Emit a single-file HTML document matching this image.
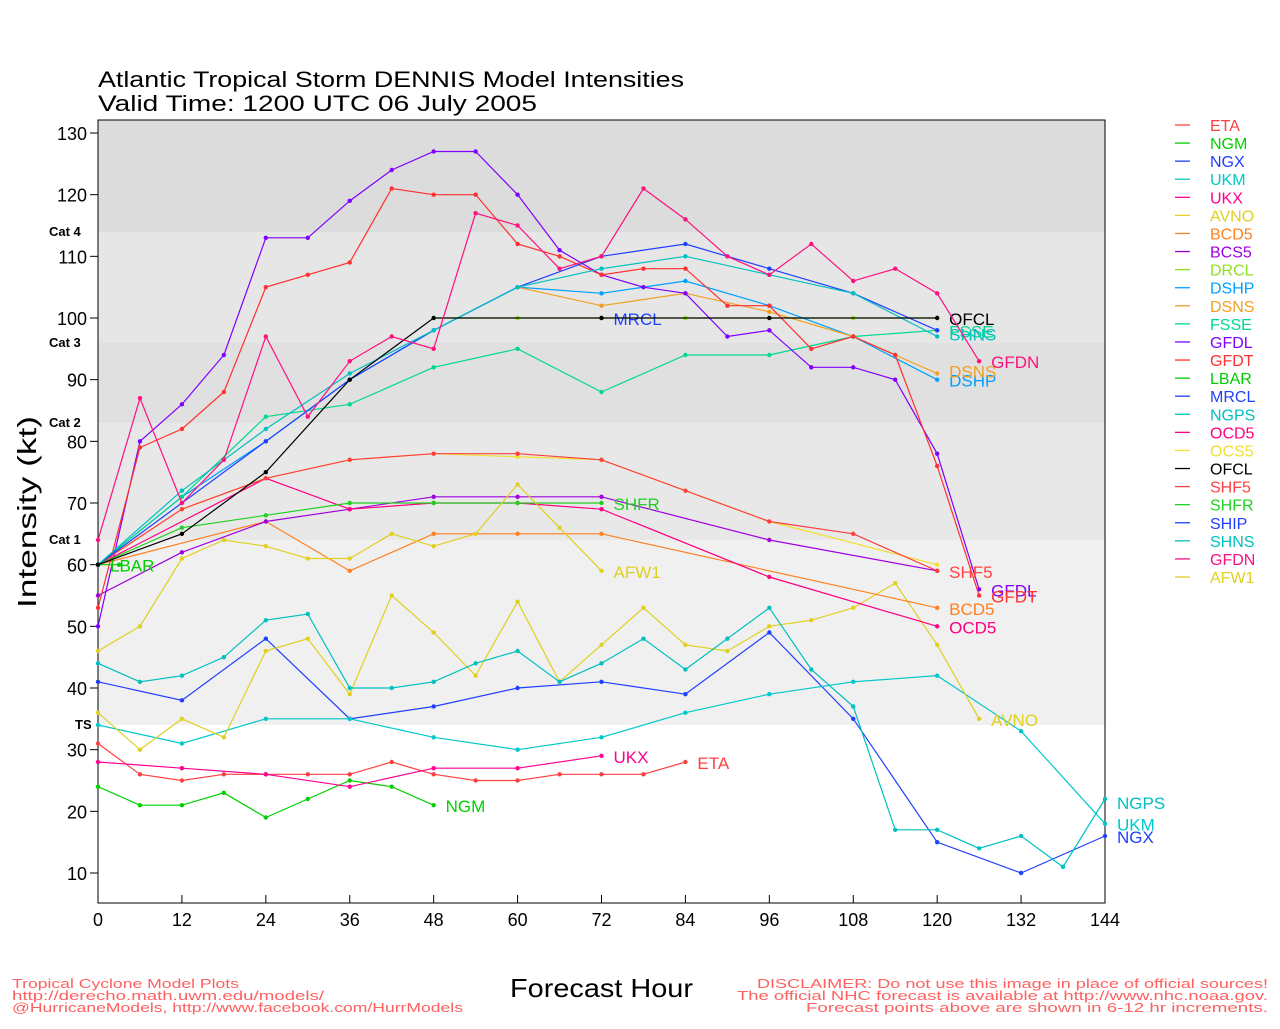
<!DOCTYPE html>
<html><head><meta charset="utf-8"><style>
html,body{margin:0;padding:0;background:#fff;}
svg text{font-family:"Liberation Sans",sans-serif;}
</style></head><body>
<svg id="s" width="1280" height="1024" xmlns="http://www.w3.org/2000/svg">
<rect width="1280" height="1024" fill="#fff"/>
<rect x="98" y="120" width="1007" height="112" fill="#dcdcdc"/>
<rect x="98" y="232" width="1007" height="111" fill="#e6e6e6"/>
<rect x="98" y="343" width="1007" height="80" fill="#e0e0e0"/>
<rect x="98" y="423" width="1007" height="117" fill="#e8e8e8"/>
<rect x="98" y="540" width="1007" height="185" fill="#f0f0f0"/>
<rect x="98" y="120" width="1007" height="783" fill="none" stroke="#000" stroke-width="1"/>
<g font-size="13" font-weight="bold" fill="#000">
<text x="49" y="236">Cat 4</text><text x="49" y="347">Cat 3</text>
<text x="49" y="427">Cat 2</text><text x="49" y="544">Cat 1</text>
<text x="75" y="729">TS</text></g>
<text x="98" y="87" font-size="22" textLength="586" lengthAdjust="spacingAndGlyphs">Atlantic Tropical Storm DENNIS Model Intensities</text>
<text x="98" y="111" font-size="22" textLength="439" lengthAdjust="spacingAndGlyphs">Valid Time: 1200 UTC 06 July 2005</text>
<text transform="translate(36,512) rotate(-90)" text-anchor="middle" font-size="26" textLength="192" lengthAdjust="spacingAndGlyphs">Intensity (kt)</text>
<text x="510" y="997" font-size="26" textLength="183" lengthAdjust="spacingAndGlyphs">Forecast Hour</text>
<g font-size="13" fill="#ff6060">
<text x="12" y="988" textLength="227" lengthAdjust="spacingAndGlyphs">Tropical Cyclone Model Plots</text>
<text x="12" y="1000" textLength="312" lengthAdjust="spacingAndGlyphs">http://derecho.math.uwm.edu/models/</text>
<text x="12" y="1012" textLength="451" lengthAdjust="spacingAndGlyphs">@HurricaneModels, http://www.facebook.com/HurrModels</text>
<text x="757" y="988" textLength="511" lengthAdjust="spacingAndGlyphs">DISCLAIMER: Do not use this image in place of official sources!</text>
<text x="737" y="1000" textLength="531" lengthAdjust="spacingAndGlyphs">The official NHC forecast is available at http://www.nhc.noaa.gov.</text>
<text x="806" y="1012" textLength="462" lengthAdjust="spacingAndGlyphs">Forecast points above are shown in 6-12 hr increments.</text>
</g>
<g id="ax"></g><g id="ser"></g><g id="leg"></g>
</svg>
<script>
var NS="http://www.w3.org/2000/svg";
function X(h){return 98+h*1007/144;}function Y(v){return 873-(v-10)*740/120;}
function el(t,a,p,txt){var e=document.createElementNS(NS,t);for(var k in a)e.setAttribute(k,a[k]);if(txt!=null)e.textContent=txt;document.getElementById(p).appendChild(e);return e;}
for(var v=10;v<=130;v+=10){var y=Y(v);el('line',{x1:90,x2:98,y1:y,y2:y,stroke:'#000'},'ax');el('text',{x:87,y:y+7,'text-anchor':'end','font-size':18},'ax',v);}
for(var h=0;h<=144;h+=12){var x=X(h);el('line',{x1:x,x2:x,y1:903,y2:895,stroke:'#000'},'ax');el('text',{x:x,y:926,'text-anchor':'middle','font-size':18},'ax',h);}
var S=[
["ETA","#ff4040",[[0,31],[6,26],[12,25],[18,26],[24,26],[30,26],[36,26],[42,28],[48,26],[54,25],[60,25],[66,26],[72,26],[78,26],[84,28]],[84,28]],
["NGM","#00d000",[[0,24],[6,21],[12,21],[18,23],[24,19],[30,22],[36,25],[42,24],[48,21]],[48,21]],
["NGX","#2040ff",[[0,41],[12,38],[24,48],[36,35],[48,37],[60,40],[72,41],[84,39],[96,49],[108,35],[120,15],[132,10],[144,16]],[144,16]],
["UKM","#00c8c8",[[0,34],[12,31],[24,35],[36,35],[48,32],[60,30],[72,32],[84,36],[96,39],[108,41],[120,42],[132,33],[144,18]],[144,18]],
["UKX","#ff0090",[[0,28],[12,27],[24,26],[36,24],[48,27],[60,27],[72,29]],[72,29]],
["AVNO","#e0d020",[[0,36],[6,30],[12,35],[18,32],[24,46],[30,48],[36,39],[42,55],[48,49],[54,42],[60,54],[66,41],[72,47],[78,53],[84,47],[90,46],[96,50],[102,51],[108,53],[114,57],[120,47],[126,35]],[126,35]],
["BCD5","#ff8020",[[0,60],[24,67],[36,59],[48,65],[60,65],[72,65],[120,53]],[120,53]],
["BCS5","#a000e0",[[0,55],[12,62],[24,67],[36,69],[48,71],[60,71],[72,71],[96,64],[120,59]],null],
["DRCL","#90e020",[[48,100],[60,100],[72,100],[84,100],[96,100],[108,100],[120,100]],null],
["DSHP","#00a0ff",[[0,60],[12,71],[24,80],[36,90],[48,98],[60,105],[72,104],[84,106],[96,102],[108,97],[120,90]],[120,90]],
["DSNS","#f0a020",[[60,105],[72,102],[84,104],[96,101],[108,97],[120,91]],[120,91.5]],
["FSSE","#00d890",[[0,60],[12,71],[24,84],[36,86],[48,92],[60,95],[72,88],[84,94],[96,94],[108,97],[120,98]],[120,98]],
["GFDL","#8000ff",[[0,50],[6,80],[12,86],[18,94],[24,113],[30,113],[36,119],[42,124],[48,127],[54,127],[60,120],[66,111],[72,107],[78,105],[84,104],[90,97],[96,98],[102,92],[108,92],[114,90],[120,78],[126,56]],[126,56]],
["GFDT","#ff3030",[[0,53],[6,79],[12,82],[18,88],[24,105],[30,107],[36,109],[42,121],[48,120],[54,120],[60,112],[66,110],[72,107],[78,108],[84,108],[90,102],[96,102],[102,95],[108,97],[114,94],[120,76],[126,55]],[126,55]],
["LBAR","#00cc00",[[0,60],[3,60]],[0,60]],
["MRCL","#2040ff",[[72,100]],[72,100]],
["NGPS","#00c0c0",[[0,44],[6,41],[12,42],[18,45],[24,51],[30,52],[36,40],[42,40],[48,41],[54,44],[60,46],[66,41],[72,44],[78,48],[84,43],[90,48],[96,53],[102,43],[108,37],[114,17],[120,17],[126,14],[132,16],[138,11],[144,22]],[144,21.5]],
["OCD5","#ff0080",[[0,60],[24,74],[36,69],[48,70],[60,70],[72,69],[96,58],[120,50]],[120,50]],
["OCS5","#f0e030",[[0,60],[12,69],[24,74],[36,77],[48,78],[60,77.5],[72,77],[96,67],[120,60]],null],
["SHF5","#ff4040",[[0,60],[12,69],[24,74],[36,77],[48,78],[60,78],[72,77],[84,72],[96,67],[108,65],[120,59]],[120,59]],
["SHFR","#20d020",[[0,60],[12,66],[24,68],[36,70],[48,70],[60,70],[72,70]],[72,70]],
["SHIP","#2040ff",[[0,60],[12,70],[24,80],[36,90],[48,98],[60,105],[72,110],[84,112],[96,108],[108,104],[120,98]],null],
["SHNS","#00c0c0",[[0,60],[12,72],[24,82],[36,91],[48,98],[60,105],[72,108],[84,110],[96,107],[108,104],[120,97]],[120,97.5]],
["OFCL","#000000",[[0,60],[12,65],[24,75],[36,90],[48,100],[72,100],[96,100],[120,100]],[120,100]],
["GFDN","#ff1080",[[0,64],[6,87],[12,70],[18,77],[24,97],[30,84],[36,93],[42,97],[48,95],[54,117],[60,115],[66,108],[72,110],[78,121],[84,116],[90,110],[96,107],[102,112],[108,106],[114,108],[120,104],[126,93]],[126,93]],
["AFW1","#e0d020",[[0,46],[6,50],[12,61],[18,64],[24,63],[30,61],[36,61],[42,65],[48,63],[54,65],[60,73],[66,66],[72,59]],[72,59]]
];
S.forEach(function(s){var pts=s[2].map(function(p){return X(p[0])+","+Y(p[1]);}).join(" ");
el('polyline',{points:pts,fill:'none',stroke:s[1],'stroke-width':1.2},'ser');
s[2].forEach(function(p){el('circle',{cx:X(p[0]),cy:Y(p[1]),r:2.2,fill:s[1]},'ser');});
if(s[3])el('text',{x:X(s[3][0])+12,y:Y(s[3][1])+7,'font-size':17,fill:s[1]},'ser',s[0]);});
var order=["ETA","NGM","NGX","UKM","UKX","AVNO","BCD5","BCS5","DRCL","DSHP","DSNS","FSSE","GFDL","GFDT","LBAR","MRCL","NGPS","OCD5","OCS5","OFCL","SHF5","SHFR","SHIP","SHNS","GFDN","AFW1"];
order.forEach(function(n,i){var c=S.filter(function(s){return s[0]==n;})[0][1];var y=125+i*18.08;
el('line',{x1:1175,x2:1190,y1:y,y2:y,stroke:c,'stroke-width':1.3},'leg');el('text',{x:1210,y:y+6,'font-size':16,fill:c},'leg',n);});
</script>
</body></html>
